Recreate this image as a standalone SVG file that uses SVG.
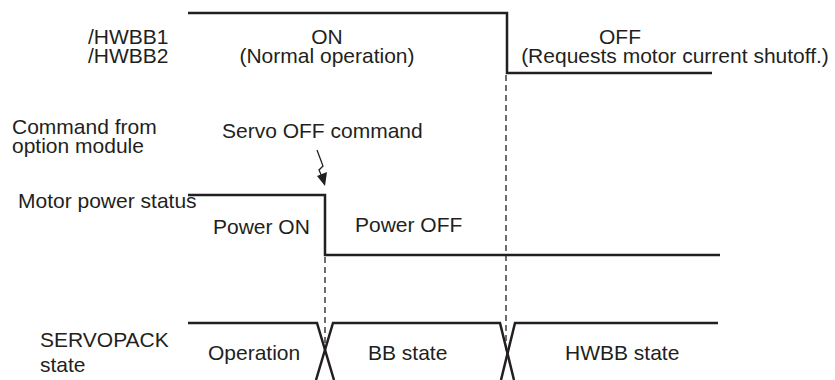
<svg xmlns="http://www.w3.org/2000/svg" width="835" height="380" viewBox="0 0 835 380">
<style>
text{font-family:"Liberation Sans",Arial,sans-serif;font-size:21px;fill:#231f20}
.m{text-anchor:middle}
.sig{fill:none;stroke:#231f20;stroke-width:2.5;stroke-linejoin:miter}
.dash{fill:none;stroke:#231f20;stroke-width:1.3;stroke-dasharray:6 4}
</style>
<rect width="835" height="380" fill="#fff"/>
<g id="labels">
<text x="88" y="44">/HWBB1<tspan x="88" y="63">/HWBB2</tspan></text>
<text x="12" y="134">Command from<tspan x="12" y="153">option module</tspan></text>
<text x="18" y="208">Motor power status</text>
<text x="40" y="347">SERVOPACK<tspan x="40" y="372">state</tspan></text>
</g>
<g id="hwbb">
<text class="m" x="327" y="44">ON<tspan x="327" y="63">(Normal operation)</tspan></text>
<text class="m" x="620" y="44">OFF<tspan x="675" y="63">(Requests motor current shutoff.)</tspan></text>
</g>
<g id="command">
<text x="222" y="138">Servo OFF command</text>
</g>
<g id="power">
<text x="213" y="234">Power ON</text>
<text x="355" y="232">Power OFF</text>
</g>
<g id="servopack">
<text x="208" y="360">Operation</text>
<text x="368" y="360">BB state</text>
<text x="565" y="360">HWBB state</text>
</g>
<g id="connectors">
<polyline class="sig" points="188,13 507,13 507,73 712,73"/>
<polyline class="sig" points="188,195 325,195 325,255 720,255"/>
<polyline class="sig" points="188,323 317,323 334,380"/>
<polyline class="sig" points="316,380 333,323 500,323 514,380"/>
<polyline class="sig" points="501,380 515,323 718,323"/>
<line class="dash" x1="325" y1="257" x2="325" y2="350"/>
<line class="dash" x1="506" y1="75" x2="506" y2="350"/>
<polyline fill="none" stroke="#231f20" stroke-width="1.3" points="317,150 323,166 319,170 322,177"/>
<polygon fill="#231f20" points="317,176 327,172 325,186"/>
</g>
</svg>
